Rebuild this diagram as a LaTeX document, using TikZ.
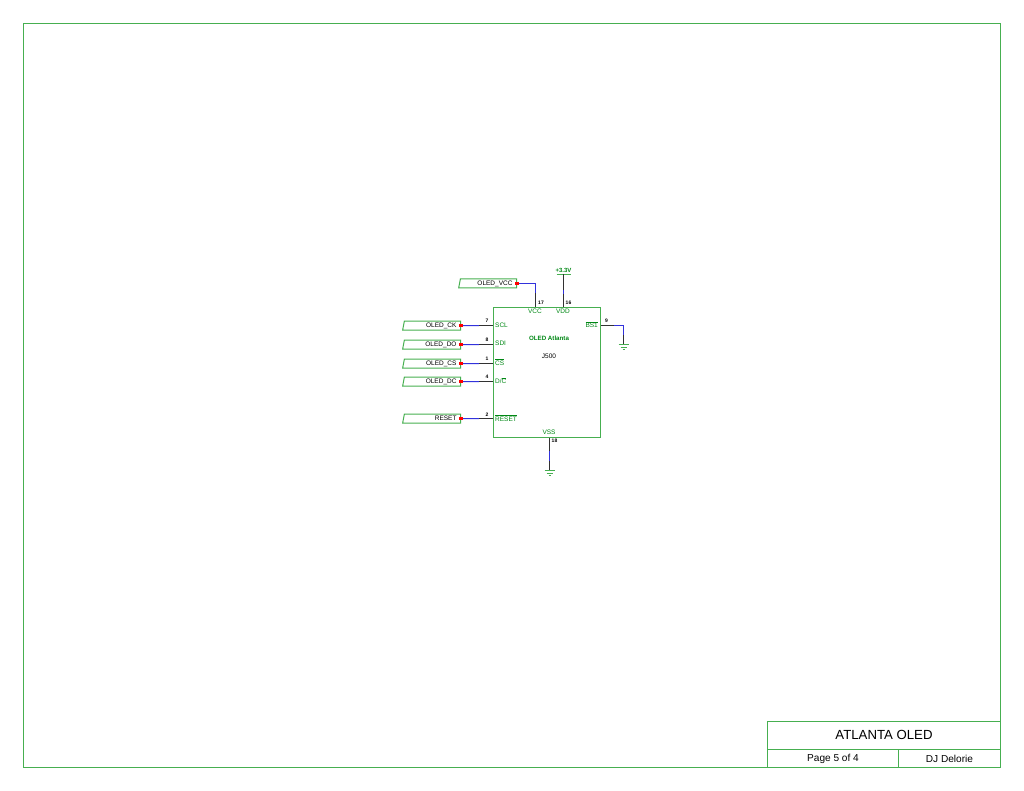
\documentclass[tikz,border=0pt]{standalone}
\usepackage{fontspec}
\setmainfont{Liberation Sans}
\usetikzlibrary{shapes.geometric}
\definecolor{schgreen}{RGB}{70,175,80}
\definecolor{textgreen}{RGB}{0,135,20}
\definecolor{netblue}{RGB}{50,50,220}
\definecolor{pingray}{RGB}{50,50,50}
\newcommand{\barred}[1]{$\overline{\mbox{#1}}$}
\tikzset{
	frame/.style={draw=schgreen, line width=1pt},
	net/.style={netblue, line width=1pt},
	pinwire/.style={pingray, line width=1pt},
	flag/.style={draw=schgreen, line width=1pt, trapezium, trapezium left angle=73, trapezium right angle=90, trapezium stretches=true, minimum width=58pt, minimum height=9pt, inner sep=0pt, font=\fontsize{6.5}{7}\selectfont, text width=48pt, align=right, text height=4.8pt, text depth=0pt},
	pinname/.style={text=textgreen, font=\fontsize{6.5}{7}\selectfont, inner sep=0pt},
	pinnum/.style={text=black, font=\fontsize{5}{6}\bfseries\selectfont, inner sep=0pt},
	reddot/.style={fill=red, inner sep=0pt, minimum size=3.6pt},
	gndbar/.style={schgreen, line width=1pt},
	blocktext/.style={text=black, inner sep=0pt},
	titlebox/.style={frame, blocktext, font=\fontsize{10.1}{12}\selectfont, minimum height=18pt}
}

\begin{document}
\begin{tikzpicture}[x=1pt, y=-1pt]
	\useasboundingbox (0,0) rectangle (1024,791);
	\draw [frame] (23.5,23.5) rectangle (1000.5,767.5);

	% title block
	\node [frame, blocktext, minimum width=233pt, minimum height=28pt, font=\fontsize{13.2}{15}\selectfont] (title) at (884,735.5) {\raisebox{.8pt}{ATLANTA OLED}};
	\node [titlebox, minimum width=131pt] (page) at (833,758.5) {Page 5 of 4};
	\node [titlebox, minimum width=102pt] (author) at (949.5,758.5) {DJ Delorie};

	% the part
	\node [frame, minimum width=107pt, minimum height=130pt, inner sep=0pt] (chip) at (547,372.5) {};
	\node [pinname, font=\fontsize{6.2}{7}\bfseries\selectfont] (chipname) at (549,338) {OLED Atlanta};
	\node [blocktext, font=\fontsize{6.5}{7}\selectfont] (chipref) at (549,356) {J500};

	\node [pinname, anchor=west] (sclname) at (495,325) {SCL};
	\node [pinname, anchor=west] (sdiname) at (495,343.5) {SDI};
	\node [pinname, anchor=west] (csname) at (495,362) {\barred{CS}};
	\node [pinname, anchor=west] (dcname) at (495,380.5) {D/\barred{C}};
	\node [pinname, anchor=west] (resetname) at (495,418) {\barred{RESET}};
	\node [pinname] (vccname) at (535,311.5) {VCC};
	\node [pinname] (vddname) at (563,311.5) {VDD};
	\node [pinname, anchor=east] (bsname) at (598,324.5) {\barred{BS1}};
	\node [pinname] (vssname) at (549,432.5) {VSS};

	\node [pinnum] (num7) at (487,321) {7};
	\node [pinnum] (num8) at (487,340) {8};
	\node [pinnum] (num1) at (487,359) {1};
	\node [pinnum] (num4) at (487,377) {4};
	\node [pinnum] (num2) at (487,415) {2};
	\node [pinnum] (num17) at (541,302.5) {17};
	\node [pinnum] (num16) at (568.5,302.5) {16};
	\node [pinnum] (num9) at (606.5,320.5) {9};
	\node [pinnum] (num18) at (554.5,441) {18};

	% flags on the left
	\node [flag] (vccflag) at (488.5,283.5) {OLED\_VCC};
	\node [flag] (ckflag) at (432.5,325.5) {OLED\_CK};
	\node [flag] (doflag) at (432.5,344.5) {OLED\_DO};
	\node [flag] (csflag) at (432.5,363.5) {OLED\_CS};
	\node [flag] (dcflag) at (432.5,381.5) {OLED\_DC};
	\node [flag] (resetflag) at (432.5,418.5) {RESET};

	% left pins
	\coordinate (ckpin) at (479,325.5);
	\coordinate (dopin) at (479,344.5);
	\coordinate (cspin) at (479,363.5);
	\coordinate (dcpin) at (479,381.5);
	\coordinate (resetpin) at (479,418.5);
	\draw [net] (ckflag.east) -- (ckpin);
	\draw [net] (doflag.east) -- (dopin);
	\draw [net] (csflag.east) -- (cspin);
	\draw [net] (dcflag.east) -- (dcpin);
	\draw [net] (resetflag.east) -- (resetpin);
	\draw [pinwire] (ckpin) -- (ckpin -| chip.west);
	\draw [pinwire] (dopin) -- (dopin -| chip.west);
	\draw [pinwire] (cspin) -- (cspin -| chip.west);
	\draw [pinwire] (dcpin) -- (dcpin -| chip.west);
	\draw [pinwire] (resetpin) -- (resetpin -| chip.west);

	\node [reddot] (ckdot) at (ckflag.east) {};
	\node [reddot] (dodot) at (doflag.east) {};
	\node [reddot] (csdot) at (csflag.east) {};
	\node [reddot] (dcdot) at (dcflag.east) {};
	\node [reddot] (resetdot) at (resetflag.east) {};

	% top pins
	\coordinate (vccpin) at (535.5,293);
	\draw [net] (vccflag.east) -| (vccpin);
	\draw [pinwire] (vccpin) -- (vccpin |- chip.north);
	\node [reddot] (vccdot) at (vccflag.east) {};

	\coordinate (plusbar) at (563.5,274.5);
	\coordinate (vddup) at (563.5,290);
	\coordinate (vddpin) at (563.5,294);
	\node [pinname, font=\fontsize{6}{7}\bfseries\selectfont] (plusname) at (563.5,270) {+3.3V};
	\draw [gndbar] (556.5,274.5) -- (570.5,274.5);
	\draw [pinwire] (plusbar) -- (vddup);
	\draw [net] (vddup) -- (vddpin);
	\draw [pinwire] (vddpin) -- (vddpin |- chip.north);

	% right pin and grounds
	\coordinate (bspin) at (614,325.5);
	\coordinate (bscorner) at (623.5,325.5);
	\coordinate (bsdown) at (623.5,335);
	\coordinate (bsgnd) at (623.5,344.5);
	\draw [pinwire] (bspin -| chip.east) -- (bspin);
	\draw [net] (bspin) -- (bscorner) -- (bsdown);
	\draw [pinwire] (bsdown) -- (bsgnd);
	\draw [gndbar] (618.5,344.5) -- (628.5,344.5);
	\draw [gndbar] (620.5,347.5) -- (626.5,347.5);
	\draw [gndbar] (622.5,349.5) -- (624.5,349.5);

	\coordinate (vsspin) at (549.5,451);
	\coordinate (vssdown) at (549.5,461);
	\coordinate (vssgnd) at (549.5,470.5);
	\draw [pinwire] (vsspin |- chip.south) -- (vsspin);
	\draw [net] (vsspin) -- (vssdown);
	\draw [pinwire] (vssdown) -- (vssgnd);
	\draw [gndbar] (544.5,470.5) -- (554.5,470.5);
	\draw [gndbar] (546.5,473.5) -- (552.5,473.5);
	\draw [gndbar] (548.5,475.5) -- (550.5,475.5);
\end{tikzpicture}
\end{document}
